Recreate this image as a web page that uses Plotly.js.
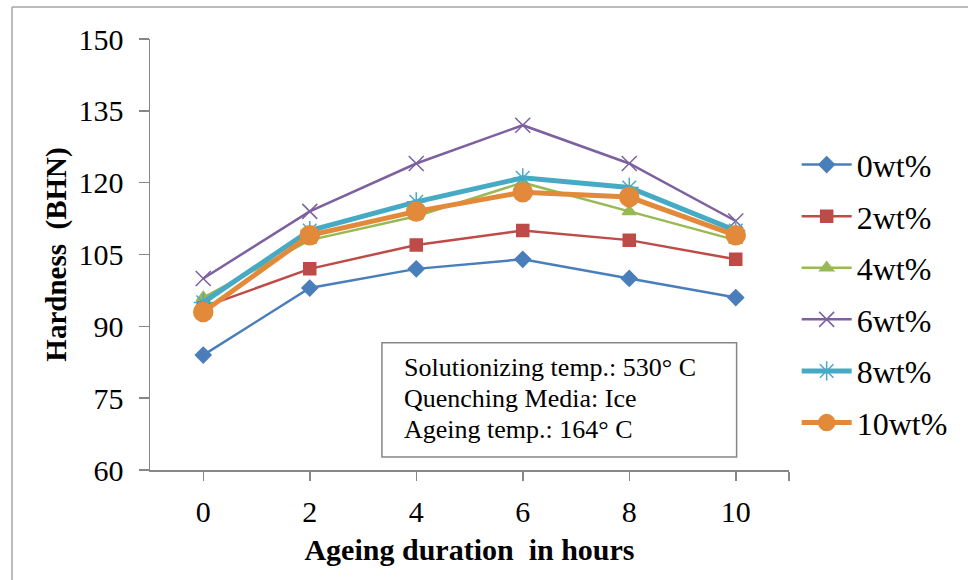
<!DOCTYPE html>
<html>
<head>
<meta charset="utf-8">
<script src="https://cdn.plot.ly/plotly-3.0.1.min.js"></script>
<style>html,body{margin:0;padding:0;background:#fff;}#chart{width:968px;height:580px;}</style>
</head>
<body>
<div id="chart"></div>
<script>
var hours = [0, 2, 4, 6, 8, 10];
var seriesNames = ['0wt%', '2wt%', '4wt%', '6wt%', '8wt%', '10wt%'];
var wt0 = [84, 98, 102, 104, 100, 96];
var wt2 = [94, 102, 107, 110, 108, 104];
var wt4 = [96, 108, 113, 120, 114, 108];
var wt6 = [100, 114, 124, 132, 124, 112];
var wt8 = [95, 110, 116, 121, 119, 110];
var wt10 = [93, 109, 114, 118, 117, 109];
var xTickVals = [0, 2, 4, 6, 8, 10, 11];
var xTickText = ['0', '2', '4', '6', '8', '10', ''];
var yTickVals = [60, 75, 90, 105, 120, 135, 150];
var noteLines = ['Solutionizing temp.: 530° C', 'Quenching Media: Ice', 'Ageing temp.: 164° C'];

var values = [wt0, wt2, wt4, wt6, wt8, wt10];
var styles = [
  {color: '#4A7EBB', width: 2.5, symbol: 'diamond', size: 12},
  {color: '#BE4B48', width: 2.5, symbol: 'square', size: 12},
  {color: '#98B954', width: 2.5, symbol: 'triangle-up', size: 12},
  {color: '#7D60A0', width: 2.5, symbol: 'x-thin-open', size: 15},
  {color: '#46AAC5', width: 5, symbol: 'asterisk-open', size: 16},
  {color: '#E2893A', width: 5, symbol: 'circle', size: 19}
];
var serif = 'Liberation Serif, Times New Roman, serif';
var traces = values.map(function (v, i) {
  var s = styles[i];
  return {
    x: hours, y: v, name: seriesNames[i], type: 'scatter', mode: 'lines+markers',
    legendgroup: 'g' + i,
    line: {color: s.color, width: s.width},
    marker: {symbol: s.symbol, size: s.size, color: s.color, line: {color: s.color, width: 1.5}}
  };
});

var noteY = [0.238, 0.166, 0.094];
var annotations = noteLines.map(function (t, i) {
  return {
    xref: 'paper', yref: 'paper', x: 0.395, y: noteY[i], xanchor: 'left', yanchor: 'middle',
    align: 'left', showarrow: false, text: t,
    font: {family: serif, size: 26, color: '#000'}
  };
});

var layout = {
  width: 968, height: 580,
  margin: {l: 150, r: 179, t: 39, b: 110},
  paper_bgcolor: '#ffffff', plot_bgcolor: '#ffffff',
  font: {family: serif, color: '#000', size: 30},
  showlegend: true,
  legend: {
    x: 1.012, y: 0.772, xanchor: 'left', yanchor: 'top',
    traceorder: 'grouped', tracegroupgap: 7,
    font: {family: serif, size: 32, color: '#000'},
    bgcolor: 'rgba(0,0,0,0)', itemwidth: 50
  },
  xaxis: {
    range: [-1, 11], tickmode: 'array', tickvals: xTickVals, ticktext: xTickText,
    showgrid: false, zeroline: false, showline: true, linecolor: '#868686', linewidth: 1.5,
    ticks: 'outside', ticklen: 9, tickcolor: '#868686', tickwidth: 1.5,
    tickfont: {family: serif, size: 30, color: '#000'},
    ticklabelstandoff: 5,
    title: {text: '<b>Ageing duration  in hours</b>', font: {family: serif, size: 30, color: '#000'}, standoff: 12}
  },
  yaxis: {
    range: [60, 150], tickmode: 'array', tickvals: yTickVals,
    showgrid: false, zeroline: false, showline: true, linecolor: '#868686', linewidth: 1.5,
    ticks: 'outside', ticklen: 10, tickcolor: '#868686', tickwidth: 1.5,
    tickfont: {family: serif, size: 30, color: '#000'},
    ticklabelstandoff: 9,
    title: {text: '<b>Hardness  (BHN)</b>', font: {family: serif, size: 29, color: '#000'}, standoff: 3}
  },
  shapes: [
    {type: 'rect', xref: 'paper', yref: 'paper', x0: 0.363, x1: 0.918, y0: 0.030, y1: 0.295,
     line: {color: '#868686', width: 1.5}, fillcolor: '#ffffff', layer: 'above'},
    {type: 'line', xref: 'paper', yref: 'paper', x0: -0.216, x1: 1.5, y0: 1.074, y1: 1.074,
     line: {color: '#A6A6A6', width: 1.5}},
    {type: 'line', xref: 'paper', yref: 'paper', x0: -0.216, x1: -0.216, y0: 1.074, y1: -0.5,
     line: {color: '#A6A6A6', width: 1.5}}
  ],
  annotations: annotations
};

Plotly.newPlot('chart', traces, layout, {displayModeBar: false, staticPlot: true});
</script>
</body>
</html>
